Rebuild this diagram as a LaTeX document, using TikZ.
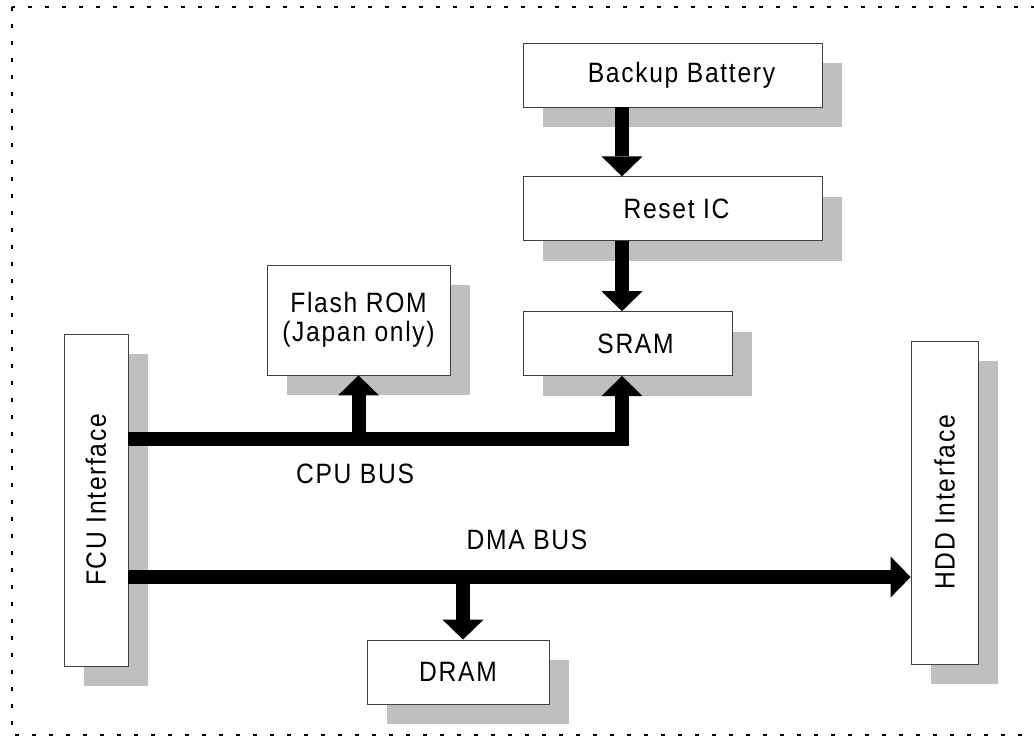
\documentclass[tikz,border=0pt]{standalone}
\usepackage{fontspec}
\setmainfont{Liberation Sans}[FakeStretch=0.88, LetterSpace=6]
\usepackage{graphicx}
\usetikzlibrary{arrows.meta,positioning,shadows}

\begin{document}
\begin{tikzpicture}[
    x=1pt, y=-1pt,
    blk/.style={draw=black!75, line width=0.8pt, fill=white, inner sep=0pt, align=center, font=\fontsize{28}{29}\selectfont,
        drop shadow={shadow xshift=20pt, shadow yshift=-20pt, fill=black!25, opacity=1}},
    lbl/.style={inner sep=0pt, font=\fontsize{28}{29}\selectfont},
    bus/.style={line width=14pt, line join=miter, -{Triangle[width=41pt, length=20pt, line width=0pt]}},
    frame/.style={line width=2.5pt, dash pattern=on 4pt off 13pt},
    node distance=69pt
]
    \useasboundingbox (0,0) rectangle (1034,738);
    \draw[frame] (12,7) rectangle (1045,735);

    \node[blk, minimum width=299pt, minimum height=64pt] (bat) at (672.5,75) {\hspace*{18pt}Backup Battery};
    \node[blk, minimum width=299pt, minimum height=64pt, below=of bat] (rst) {\hspace*{8pt}Reset IC};
    \node[blk, minimum width=209pt, minimum height=64pt, below=70pt of rst.south west, anchor=north west] (sram) {\hspace*{16pt}SRAM};
    \node[blk, minimum width=183pt, minimum height=110pt] (rom) at (358.5,320) {Flash ROM\\(Japan only)};
    \node[blk, minimum width=64pt, minimum height=332pt] (fcu) at (96,500) {\rotatebox{90}{FCU Interface}};
    \node[blk, minimum width=67pt, minimum height=323pt] (hdd) at (944.5,502.5) {\rotatebox{90}{HDD Interface}};
    \node[blk, minimum width=182pt, minimum height=64pt] (dram) at (458,672) {DRAM};

    \node[lbl] (cpulbl) at (355,474) {CPU BUS};
    \node[lbl] (dmalbl) at (527,540) {DMA BUS};

    \draw[bus] (bat.south -| 622,0) -- (rst.north -| 622,0);
    \draw[bus] (rst.south -| 622,0) -- (sram.north -| 622,0);
    \draw[bus] (fcu.east |- 0,439) -| ([xshift=-5.5pt]sram.south);
    \draw[bus] (rom.south |- 0,439) -- (rom.south);
    \draw[bus] (fcu.east |- 0,577) -- (hdd.west |- 0,577);
    \draw[bus] ([xshift=5pt]dram.north |- 0,577) -- ([xshift=5pt]dram.north);
\end{tikzpicture}
\end{document}
